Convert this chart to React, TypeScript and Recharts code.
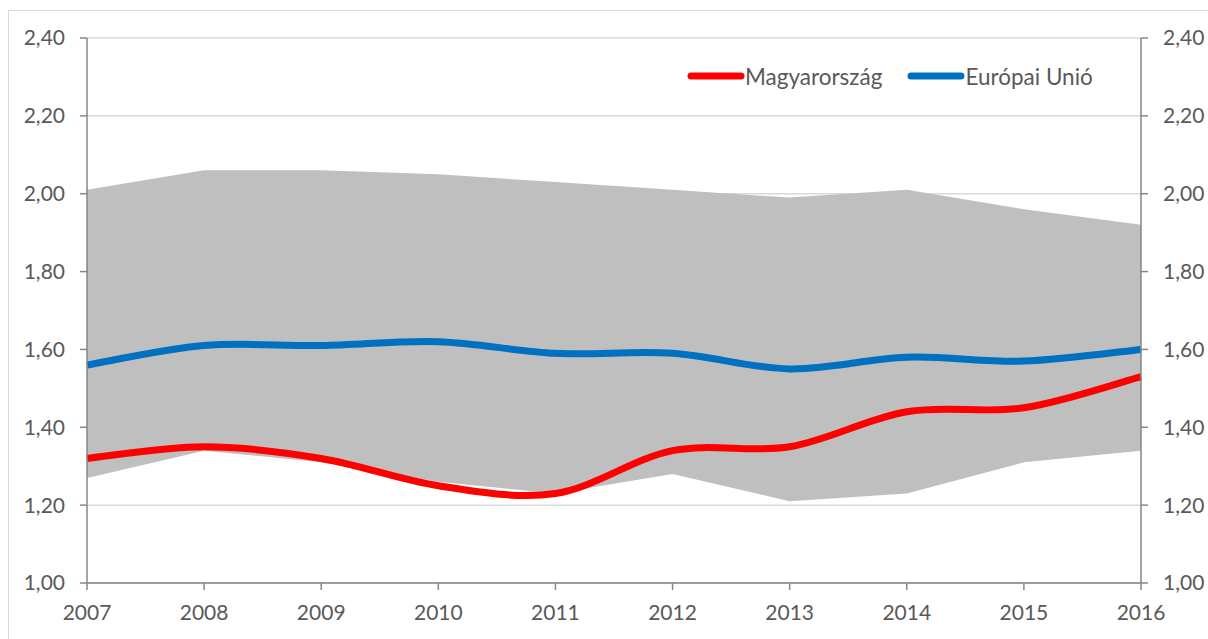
import React from "react";
import { ComposedChart, Line, Area, XAxis, YAxis, CartesianGrid } from "recharts";

const years = ["2007", "2008", "2009", "2010", "2011", "2012", "2013", "2014", "2015", "2016"];
const hungary = [1.32, 1.35, 1.32, 1.25, 1.23, 1.34, 1.35, 1.44, 1.45, 1.53];
const eu = [1.56, 1.61, 1.61, 1.62, 1.59, 1.59, 1.55, 1.58, 1.57, 1.6];
const bandLow = [1.27, 1.34, 1.31, 1.26, 1.23, 1.28, 1.21, 1.23, 1.31, 1.34];
const bandHigh = [2.01, 2.06, 2.06, 2.05, 2.03, 2.01, 1.99, 2.01, 1.96, 1.92];
const yTicks = [1.0, 1.2, 1.4, 1.6, 1.8, 2.0, 2.2, 2.4];

const data = years.map((y, i) => ({
  year: y,
  hu: hungary[i],
  eu: eu[i],
  band: [bandLow[i], bandHigh[i]],
}));

const FONT = "Lato, 'Open Sans', sans-serif";
const TEXT = "#595959";
const AXIS = "#868686";
const TICK_FONT = 21;

// Excel-like smoothed line (uniform Catmull-Rom as cubic Bezier)
const smoothCurve: any = (context: any) => {
  let pts: number[][] = [];
  return {
    areaStart() {},
    areaEnd() {},
    lineStart() {
      pts = [];
    },
    point(x: number, y: number) {
      pts.push([+x, +y]);
    },
    lineEnd() {
      const n = pts.length;
      if (!n) return;
      context.moveTo(pts[0][0], pts[0][1]);
      for (let i = 0; i < n - 1; i++) {
        const p0 = pts[Math.max(i - 1, 0)];
        const p1 = pts[i];
        const p2 = pts[i + 1];
        const p3 = pts[Math.min(i + 2, n - 1)];
        context.bezierCurveTo(
          p1[0] + (p2[0] - p0[0]) / 6,
          p1[1] + (p2[1] - p0[1]) / 6,
          p2[0] - (p3[0] - p1[0]) / 6,
          p2[1] - (p3[1] - p1[1]) / 6,
          p2[0],
          p2[1]
        );
      }
    },
  };
};

const fmt = (v: number) => v.toFixed(2).replace(".", ",");

const legendItems = [
  { label: "Magyarország", color: "#ff0000" },
  { label: "Európai Unió", color: "#0070c0" },
];

export default function App() {
  return (
    <div
      style={{
        position: "fixed",
        left: 0,
        top: 0,
        width: 1208,
        height: 639,
        overflow: "hidden",
        background: "#ffffff",
      }}
    >
      <div
        style={{
          position: "absolute",
          left: 8,
          top: 10,
          width: 1200,
          height: 629,
          borderTop: "1px solid #d9d9d9",
          borderLeft: "1px solid #d9d9d9",
          boxSizing: "border-box",
        }}
      />
      <ComposedChart
        width={1208}
        height={639}
        data={data}
        margin={{ top: 38, right: 7, bottom: 11, left: 27 }}
        style={{ fontFamily: FONT }}
      >
        <CartesianGrid vertical={false} stroke="#d9d9d9" strokeWidth={1.5} yAxisId="left" />
        <XAxis
          dataKey="year"
          height={45}
          stroke={AXIS}
          strokeWidth={1.5}
          tickSize={7}
          tickMargin={15}
          tick={{ fill: TEXT, fontSize: TICK_FONT, fontFamily: FONT }}
          interval={0}
        />
        <YAxis
          yAxisId="left"
          orientation="left"
          width={60}
          domain={[1, 2.4]}
          ticks={yTicks}
          tickFormatter={fmt}
          stroke={AXIS}
          strokeWidth={1.5}
          tickSize={7}
          tickMargin={15}
          tick={{ fill: TEXT, fontSize: TICK_FONT, fontFamily: FONT }}
          interval={0}
        />
        <YAxis
          yAxisId="right"
          orientation="right"
          width={60}
          domain={[1, 2.4]}
          ticks={yTicks}
          tickFormatter={fmt}
          stroke={AXIS}
          strokeWidth={1.5}
          tickSize={7}
          tickMargin={15}
          tick={{ fill: TEXT, fontSize: TICK_FONT, fontFamily: FONT }}
          interval={0}
        />
        <Area
          yAxisId="left"
          dataKey="band"
          type="linear"
          fill="#bfbfbf"
          fillOpacity={1}
          stroke="none"
          isAnimationActive={false}
          legendType="none"
        />
        <Line
          yAxisId="left"
          dataKey="hu"
          name="Magyarország"
          type={smoothCurve}
          stroke="#ff0000"
          strokeWidth={7}
          dot={false}
          activeDot={false}
          isAnimationActive={false}
        />
        <Line
          yAxisId="left"
          dataKey="eu"
          name="Európai Unió"
          type={smoothCurve}
          stroke="#0070c0"
          strokeWidth={7}
          dot={false}
          activeDot={false}
          isAnimationActive={false}
        />
        <Line
          yAxisId="right"
          dataKey="eu"
          type="linear"
          stroke="none"
          strokeOpacity={0}
          dot={false}
          activeDot={false}
          legendType="none"
          isAnimationActive={false}
        />
      </ComposedChart>
      <div
        style={{
          position: "absolute",
          left: 687,
          top: 63,
          display: "flex",
          alignItems: "center",
          height: 26,
          fontFamily: FONT,
          fontSize: 22.5,
          color: TEXT,
          whiteSpace: "nowrap",
        }}
      >
        {legendItems.map((it, i) => (
          <div key={it.label} style={{ display: "flex", alignItems: "center", marginRight: i === 0 ? 25 : 0 }}>
            <svg width={58} height={10} style={{ display: "block" }}>
              <line x1={4} y1={5} x2={54} y2={5} stroke={it.color} strokeWidth={7} strokeLinecap="round" />
            </svg>
            <span>{it.label}</span>
          </div>
        ))}
      </div>
    </div>
  );
}
